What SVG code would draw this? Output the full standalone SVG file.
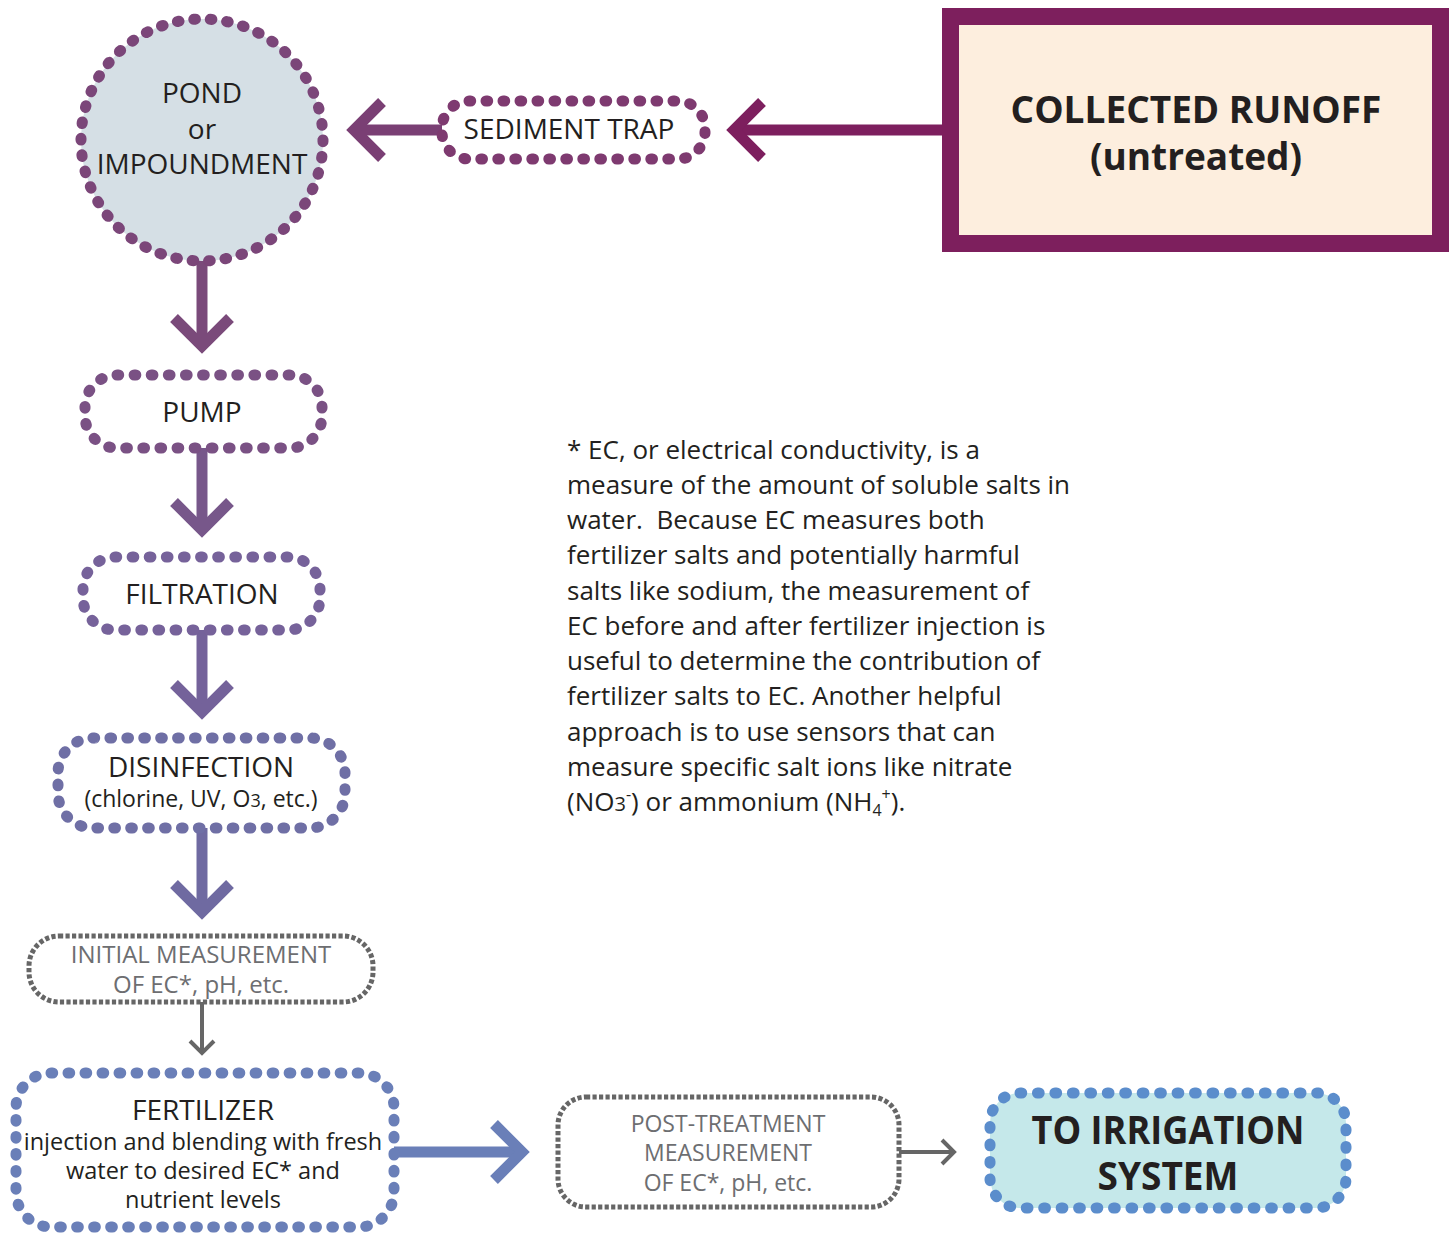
<svg xmlns="http://www.w3.org/2000/svg" width="1452" height="1234" viewBox="0 0 1452 1234">
<style>
text{font-family:"Open Sans","Noto Sans","DejaVu Sans",sans-serif;fill:#231f20;text-anchor:middle}
.t28{font-size:28px}
.t23{font-size:23px}
.t24{font-size:24px}
.gray{fill:#6d6e71}
.bold{font-weight:700}
.dots{stroke-width:11;stroke-linecap:round;stroke-dasharray:0.1 0.9}
.sq{fill:#fff;stroke:#666;stroke-width:5;stroke-dasharray:4.2 2.3}
.para{font-size:26px;text-anchor:start}
.arr{fill:none;stroke-width:11;stroke-linejoin:miter;stroke-linecap:butt}
.thin{fill:none;stroke:#666;stroke-width:4;stroke-linejoin:miter}
</style>
<g id="connectors">
  <g stroke="#7d1f5e" class="arr"><line x1="943" y1="130" x2="735" y2="130"/><polyline points="762,102 734,130 762,158"/></g>
  <g stroke="#7a3f74" class="arr"><line x1="442" y1="130" x2="356" y2="130"/><polyline points="382,102 354,130 382,158"/></g>
  <g stroke="#7a4a7a" class="arr"><line x1="202" y1="260" x2="202" y2="344"/><polyline points="174,318 202,346 230,318"/></g>
  <g stroke="#77578a" class="arr"><line x1="202" y1="448" x2="202" y2="528"/><polyline points="174,502 202,530 230,502"/></g>
  <g stroke="#74629a" class="arr"><line x1="202" y1="630" x2="202" y2="710"/><polyline points="174,684 202,712 230,684"/></g>
  <g stroke="#6f6aa1" class="arr"><line x1="202" y1="828" x2="202" y2="910"/><polyline points="174,884 202,912 230,884"/></g>
  <g class="thin"><line x1="202" y1="1002" x2="202" y2="1052"/><polyline points="190,1041 202,1053 214,1041"/></g>
  <g stroke="#6a7fb8" class="arr"><line x1="394" y1="1152" x2="520" y2="1152"/><polyline points="494,1124 522,1152 494,1180"/></g>
  <g class="thin"><line x1="899" y1="1152" x2="954" y2="1152"/><polyline points="942,1140 954,1152 942,1164"/></g>
</g>
<g id="runoff">
  <rect x="950.5" y="16.5" width="490" height="227" fill="#fdeede" stroke="#7d1f5d" stroke-width="17"/>
  <text class="bold" x="1196" y="123" font-size="37">COLLECTED RUNOFF</text>
  <text class="bold" x="1196" y="170" font-size="37">(untreated)</text>
</g>
<g id="sediment">
  <rect x="442" y="101" width="263" height="58" rx="27" fill="#fff" stroke="#7e3a70" class="dots" pathLength="35"/>
  <text class="t28" x="569" y="139">SEDIMENT TRAP</text>
</g>
<g id="pond">
  <circle cx="202" cy="140" r="121" fill="#d5dfe5" stroke="#7b4679" class="dots" pathLength="46"/>
  <text class="t28" x="202" y="103">POND</text>
  <text class="t28" x="202" y="139">or</text>
  <text class="t28" x="202" y="174">IMPOUNDMENT</text>
</g>
<g id="pump">
  <rect x="85" y="375" width="237" height="73" rx="32" fill="#fff" stroke="#7a5184" class="dots" pathLength="33"/>
  <text class="t28" x="202" y="422">PUMP</text>
</g>
<g id="filtration">
  <rect x="83" y="557" width="237" height="73" rx="32" fill="#fff" stroke="#76629a" class="dots" pathLength="33"/>
  <text class="t28" x="202" y="604">FILTRATION</text>
</g>
<g id="disinfection">
  <rect x="58" y="738" width="287" height="90" rx="35" fill="#fff" stroke="#6f6fa5" class="dots" pathLength="41"/>
  <text class="t28" x="201" y="777">DISINFECTION</text>
  <text x="201" y="807" font-size="23">(chlorine, UV, O<tspan font-size="18">3</tspan>, etc.)</text>
</g>
<g id="initial">
  <rect x="29" y="936" width="344" height="66" rx="30" class="sq"/>
  <text class="t24 gray" x="201" y="963">INITIAL MEASUREMENT</text>
  <text class="t24 gray" x="201" y="993">OF EC*, pH, etc.</text>
</g>
<g id="fertilizer">
  <rect x="16" y="1073" width="378" height="154" rx="35" fill="#fff" stroke="#6a7fb8" class="dots" pathLength="59"/>
  <text class="t28" x="203" y="1120">FERTILIZER</text>
  <text x="203" y="1150" font-size="23.5">injection and blending with fresh</text>
  <text x="203" y="1179" font-size="23.5">water to desired EC* and</text>
  <text x="203" y="1208" font-size="23.5">nutrient levels</text>
</g>
<g id="post">
  <rect x="558" y="1097" width="341" height="110" rx="28" class="sq"/>
  <text class="t23 gray" x="728" y="1132">POST-TREATMENT</text>
  <text class="t23 gray" x="728" y="1161">MEASUREMENT</text>
  <text class="t23 gray" x="728" y="1191">OF EC*, pH, etc.</text>
</g>
<g id="irrigation">
  <rect x="990" y="1093" width="356" height="115" rx="30" fill="#c5e8ea" stroke="#5b8dcc" class="dots" pathLength="51"/>
  <text class="bold" x="1168" y="1144" font-size="39" textLength="273" lengthAdjust="spacingAndGlyphs">TO IRRIGATION</text>
  <text class="bold" x="1168" y="1190" font-size="39" textLength="141" lengthAdjust="spacingAndGlyphs">SYSTEM</text>
</g>
<g id="note">
  <text class="para" x="567" y="459">* EC, or electrical conductivity, is a</text>
  <text class="para" x="567" y="494">measure of the amount of soluble salts in</text>
  <text class="para" x="567" y="529" xml:space="preserve">water.  Because EC measures both</text>
  <text class="para" x="567" y="564">fertilizer salts and potentially harmful</text>
  <text class="para" x="567" y="600">salts like sodium, the measurement of</text>
  <text class="para" x="567" y="635">EC before and after fertilizer injection is</text>
  <text class="para" x="567" y="670">useful to determine the contribution of</text>
  <text class="para" x="567" y="705">fertilizer salts to EC. Another helpful</text>
  <text class="para" x="567" y="741">approach is to use sensors that can</text>
  <text class="para" x="567" y="776">measure specific salt ions like nitrate</text>
  <text class="para" x="567" y="811">(NO<tspan font-size="20">3</tspan><tspan font-size="16" dy="-11">-</tspan><tspan dy="11">) or ammonium (NH</tspan><tspan font-size="16" dy="5">4</tspan><tspan font-size="16" dy="-16">+</tspan><tspan dy="11">).</tspan></text>
</g>
</svg>
